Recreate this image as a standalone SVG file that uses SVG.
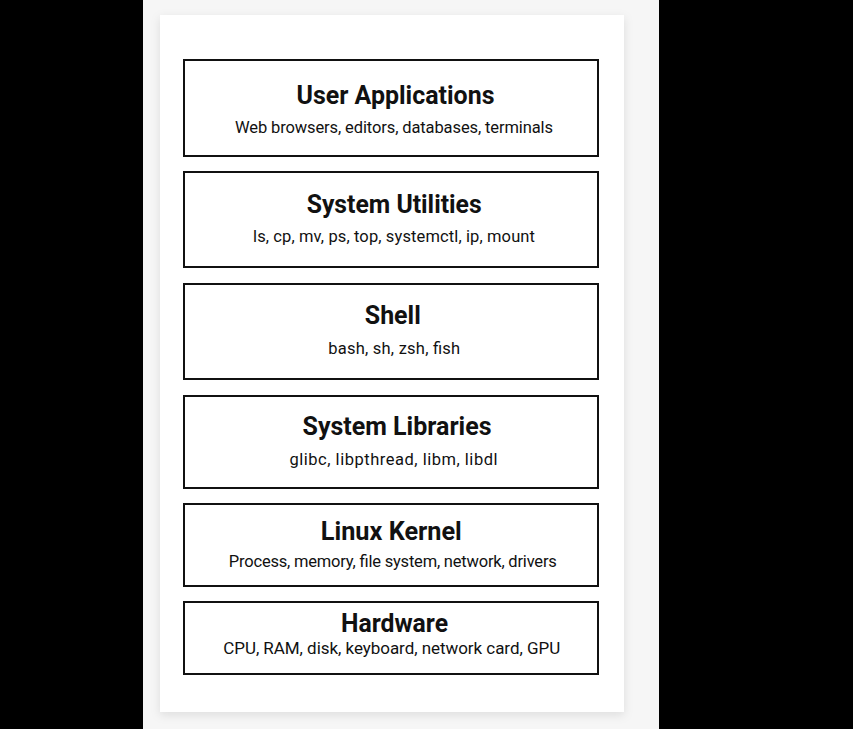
<svg xmlns="http://www.w3.org/2000/svg" width="853" height="729" viewBox="0 0 853 729">
  <defs>
    <filter id="shadow" x="-10%" y="-10%" width="120%" height="120%">
      <feDropShadow dx="0" dy="3" stdDeviation="5" flood-color="#000" flood-opacity="0.10"/>
    </filter>
    <style>
      .box { fill: #ffffff; stroke: #111111; stroke-width: 2; }
      .title { font-family: Roboto, "Liberation Sans", sans-serif; font-weight: 700; font-size: 25px; fill: #111111; text-anchor: middle; }
      .sub { font-family: Roboto, "Liberation Sans", sans-serif; font-weight: 400; font-size: 16.5px; fill: #111111; text-anchor: middle; }
    </style>
  </defs>
  <rect x="0" y="0" width="853" height="729" fill="#000000"/>
  <rect x="143" y="0" width="516" height="729" fill="#f6f6f6"/>
  <rect x="160" y="15" width="464" height="697" fill="#ffffff" filter="url(#shadow)"/>

  <g id="user-applications">
    <rect class="box" x="184" y="60" width="414" height="96"/>
    <text class="title" x="395.5" y="104" textLength="198" lengthAdjust="spacingAndGlyphs">User Applications</text>
    <text class="sub" x="394" y="133" textLength="318" lengthAdjust="spacing">Web browsers, editors, databases, terminals</text>
  </g>
  <g id="system-utilities">
    <rect class="box" x="184" y="172" width="414" height="95"/>
    <text class="title" x="394.2" y="212.5" textLength="175" lengthAdjust="spacingAndGlyphs">System Utilities</text>
    <text class="sub" x="394" y="241.5" textLength="282" lengthAdjust="spacing">ls, cp, mv, ps, top, systemctl, ip, mount</text>
  </g>
  <g id="shell">
    <rect class="box" x="184" y="284" width="414" height="95"/>
    <text class="title" x="392.8" y="324" textLength="56" lengthAdjust="spacingAndGlyphs">Shell</text>
    <text class="sub" x="394.2" y="353.5" textLength="132" lengthAdjust="spacing">bash, sh, zsh, fish</text>
  </g>
  <g id="system-libraries">
    <rect class="box" x="184" y="396" width="414" height="92"/>
    <text class="title" x="397" y="434.5" textLength="189" lengthAdjust="spacingAndGlyphs">System Libraries</text>
    <text class="sub" x="393.5" y="464.5" textLength="208" lengthAdjust="spacing">glibc, libpthread, libm, libdl</text>
  </g>
  <g id="linux-kernel">
    <rect class="box" x="184" y="504" width="414" height="82"/>
    <text class="title" x="391.3" y="540" textLength="141" lengthAdjust="spacingAndGlyphs">Linux Kernel</text>
    <text class="sub" x="392.8" y="566.5" textLength="328" lengthAdjust="spacing">Process, memory, file system, network, drivers</text>
  </g>
  <g id="hardware">
    <rect class="box" x="184" y="602" width="414" height="72"/>
    <text class="title" x="394.5" y="631.5" textLength="107" lengthAdjust="spacingAndGlyphs">Hardware</text>
    <text class="sub" x="391.7" y="654" textLength="337" lengthAdjust="spacing" style="font-size:17px">CPU, RAM, disk, keyboard, network card, GPU</text>
  </g>
  <g id="connectors"></g>
</svg>
